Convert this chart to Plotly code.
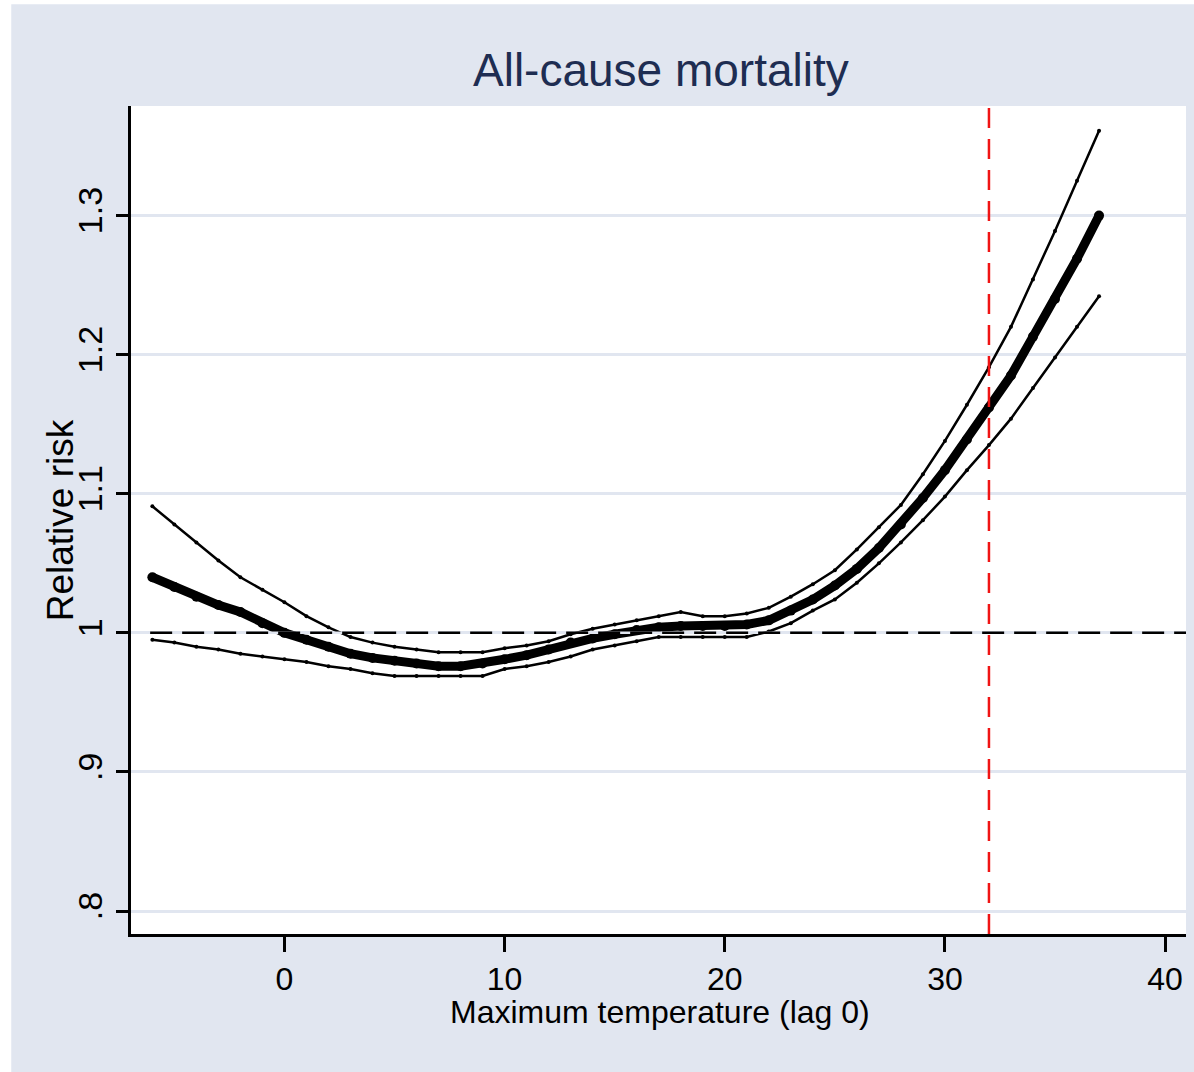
import plotly.graph_objects as go

# Maximum temperature (lag 0), degrees C
temperature = list(range(-6, 38))

# Relative risk of all-cause mortality and its 95% confidence bounds
relative_risk = [
    1.040, 1.033, 1.026, 1.020, 1.015, 1.007, 1.000, 0.995, 0.990, 0.985,
    0.982, 0.980, 0.978, 0.976, 0.976, 0.978, 0.981, 0.984, 0.988, 0.993,
    0.996, 0.999, 1.002, 1.004, 1.005, 1.005, 1.005, 1.006, 1.009, 1.016,
    1.024, 1.034, 1.046, 1.061, 1.078, 1.097, 1.117, 1.139, 1.162, 1.185,
    1.213, 1.240, 1.269, 1.300,
]
upper_ci = [
    1.091, 1.078, 1.065, 1.052, 1.040, 1.031, 1.022, 1.012, 1.004, 0.997,
    0.993, 0.990, 0.988, 0.986, 0.986, 0.986, 0.989, 0.991, 0.994, 0.999,
    1.003, 1.006, 1.009, 1.012, 1.015, 1.012, 1.012, 1.014, 1.018, 1.026,
    1.035, 1.045, 1.060, 1.076, 1.092, 1.114, 1.138, 1.164, 1.191, 1.220,
    1.254, 1.289, 1.325, 1.361,
]
lower_ci = [
    0.995, 0.993, 0.990, 0.988, 0.985, 0.983, 0.981, 0.979, 0.976, 0.974,
    0.971, 0.969, 0.969, 0.969, 0.969, 0.969, 0.974, 0.976, 0.979, 0.983,
    0.988, 0.991, 0.994, 0.997, 0.997, 0.997, 0.997, 0.997, 1.001, 1.007,
    1.016, 1.024, 1.036, 1.050, 1.065, 1.081, 1.098, 1.117, 1.135, 1.154,
    1.176, 1.198, 1.220, 1.242,
]

threshold_temp = 32
reference_rr = 1.0

x_ticks = [0, 10, 20, 30, 40]
y_ticks = [0.8, 0.9, 1.0, 1.1, 1.2, 1.3]
y_tick_labels = [".8", ".9", "1", "1.1", "1.2", "1.3"]

title_text = "All-cause mortality"
x_title = "Maximum temperature (lag 0)"
y_title = "Relative risk"

FONT = "Liberation Sans Narrow, Liberation Sans, Arial Narrow, Arial, sans-serif"
BG = "#E1E6F0"
GRID = "#E1E6F0"
NAVY = "#1E2D52"

fig = go.Figure()

for ci in (upper_ci, lower_ci):
    fig.add_trace(go.Scatter(
        x=temperature, y=ci, mode="lines+markers",
        line=dict(color="black", width=2.5),
        marker=dict(color="black", size=4),
        showlegend=False, hoverinfo="skip",
    ))

fig.add_trace(go.Scatter(
    x=temperature, y=relative_risk, mode="lines+markers",
    line=dict(color="black", width=9),
    marker=dict(color="black", size=10),
    showlegend=False,
))

x_range = [-6.97, 40.95]
y_range = [0.7835, 1.3788]

shapes = [
    # white margin strips around the outer panel
    dict(type="rect", xref="paper", yref="paper", x0=-0.2, x1=-0.1135,
         y0=-0.2, y1=1.2, fillcolor="white", line_width=0, layer="below"),
    dict(type="rect", xref="paper", yref="paper", x0=-0.2, x1=1.2,
         y0=1.1228, y1=1.2, fillcolor="white", line_width=0, layer="below"),
    # reference line at RR = 1
    dict(type="line", xref="x", yref="y", x0=-6.1, x1=x_range[1],
         y0=reference_rr, y1=reference_rr,
         line=dict(color=GRID, width=2.5), layer="above"),
    dict(type="line", xref="x", yref="y", x0=-6.1, x1=x_range[1],
         y0=reference_rr, y1=reference_rr,
         line=dict(color="black", width=2.5, dash="22px,10px"), layer="above"),
    # heat threshold
    dict(type="line", xref="x", yref="y", x0=threshold_temp, x1=threshold_temp,
         y0=y_range[0], y1=y_range[1],
         line=dict(color="#F01414", width=2.5, dash="20px,11px"), layer="above"),
]

annotations = [
    dict(text=title_text, xref="paper", yref="paper", x=0.5025, y=1.043,
         xanchor="center", yanchor="middle", showarrow=False,
         font=dict(family=FONT, size=46, color=NAVY)),
    dict(text=x_title, xref="paper", yref="paper", x=0.5015, y=-0.094,
         xanchor="center", yanchor="middle", showarrow=False,
         font=dict(family=FONT, size=32, color="black")),
    dict(text=y_title, xref="paper", yref="paper", x=-0.067, y=0.5,
         xanchor="center", yanchor="middle", showarrow=False, textangle=-90,
         font=dict(family=FONT, size=37, color="black")),
]

fig.update_layout(
    width=1194, height=1072,
    margin=dict(l=131, r=8, t=106, b=138),
    paper_bgcolor=BG, plot_bgcolor="white",
    shapes=shapes, annotations=annotations,
    showlegend=False,
)

fig.update_xaxes(
    range=x_range, tickvals=x_ticks, ticks="outside", ticklen=15, tickwidth=2.5,
    tickcolor="black", showline=True, linecolor="black", linewidth=3,
    showgrid=False, zeroline=False,
    tickfont=dict(family=FONT, size=32, color="black"), ticklabelstandoff=0,
)
fig.update_yaxes(
    range=y_range, tickvals=y_ticks, ticktext=y_tick_labels, tickangle=-90,
    ticks="outside", ticklen=12, tickwidth=2.5, tickcolor="black",
    showline=True, linecolor="black", linewidth=3,
    showgrid=True, gridcolor=GRID, gridwidth=2.5, zeroline=False,
    tickfont=dict(family=FONT, size=34, color="black"), ticklabelstandoff=0,
)

fig.write_html("out.html")
